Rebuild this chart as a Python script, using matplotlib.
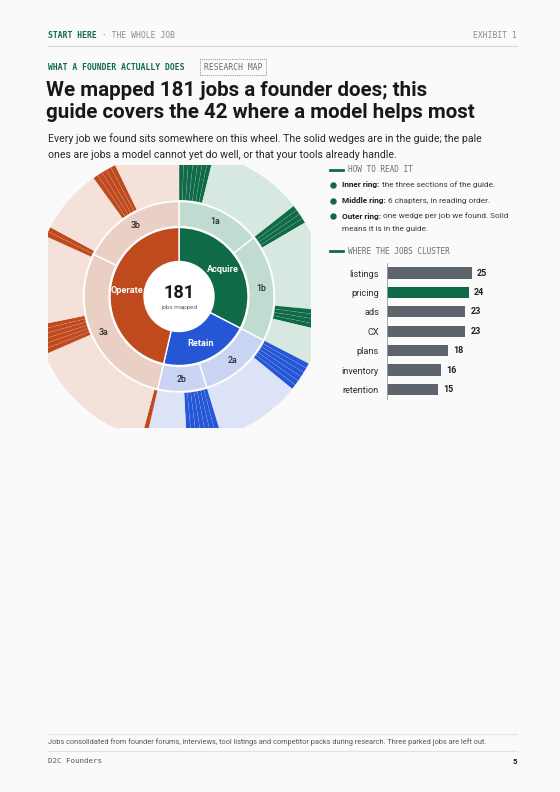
import numpy as np
import matplotlib.pyplot as plt
from matplotlib.patches import Wedge, Circle
from matplotlib.lines import Line2D

W, H = 560, 792

# ---- data ----
sections = ['Acquire', 'Retain', 'Operate']
section_jobs = [59, 38, 84]
chapters = ['1a', '1b', '2a', '2b', '3a', '3b']
chapter_jobs = [26, 33, 23, 15, 52, 32]
chapter_section = [0, 0, 1, 1, 2, 2]
total_jobs = 181
# job positions (clockwise from 12 o'clock) that are covered in the guide
guide_jobs = [0, 1, 2, 3, 4, 5, 6, 26, 27, 28, 29, 48, 49, 50, 51,
              59, 60, 61, 62, 63, 64, 82, 83, 84, 85, 86, 87, 88, 97,
              124, 125, 126, 127, 128, 129, 148, 149, 163, 164, 165, 166, 167]
clusters = ['listings', 'pricing', 'ads', 'CX', 'plans', 'inventory', 'retention']
cluster_jobs = [25, 24, 23, 23, 18, 16, 15]
highlight = 'pricing'

# ---- styles ----
BG = '#fafafa'
INK = '#16181b'
SANS = 'Roboto'
MONO = 'DejaVu Sans Mono'
dark = ['#0f6a48', '#2456d6', '#bf4a1e']
mid = ['#c0dbcf', '#c8d4f2', '#eacfc4']
pale = ['#d6e8e0', '#dce3f6', '#f4e1d9']
GREEN = dark[0]
BAR = '#5e646b'

fig = plt.figure(figsize=(W / 100, H / 100), dpi=100, facecolor=BG)
renderer = fig.canvas.get_renderer()


def fx(x):
    return x / W


def fy(y):
    return 1 - y / H


def ftext(x, y, s, **kw):
    return fig.text(fx(x), fy(y), s, **kw)


def rich(x, y, parts, size):
    # parts: (text, weight, color) placed one after another
    for s, wt, col in parts:
        t = ftext(x, y, s, fontsize=size, fontweight=wt, color=col,
                  family=SANS, va='center', ha='left')
        x += t.get_window_extent(renderer).width


def hline(x1, x2, y, color, lw):
    fig.add_artist(Line2D([fx(x1), fx(x2)], [fy(y), fy(y)], color=color, lw=lw,
                          transform=fig.transFigure))


# ---- header ----
t = ftext(48, 36, 'START HERE', family=MONO, fontsize=5.8, color=GREEN,
          fontweight='bold', va='center')
x = 48 + t.get_window_extent(renderer).width
ftext(x, 36, ' · THE WHOLE JOB', family=MONO, fontsize=5.8, color='#8a8d91', va='center')
ftext(517, 36, 'EXHIBIT 1', family=MONO, fontsize=5.8, color='#8a8d91', va='center', ha='right')
hline(48, 517, 46, '#d4d6d8', 0.8)

ftext(48, 67, 'WHAT A FOUNDER ACTUALLY DOES', family=MONO, fontsize=5.8, color=GREEN,
      fontweight='bold', va='center')
ftext(204, 67, 'RESEARCH MAP', family=MONO, fontsize=5.8, color='#6a6d71', va='center',
      bbox=dict(boxstyle='square,pad=0.45', fc='none', ec='#8a8d91', lw=0.7, ls=(0, (1, 1.2))))

ftext(46, 91, 'We mapped 181 jobs a founder does; this', family=SANS, fontsize=14.8,
      fontweight='bold', color=INK, va='center')
ftext(46, 113, 'guide covers the 42 where a model helps most', family=SANS, fontsize=14.8,
      fontweight='bold', color=INK, va='center')
ftext(48, 139, 'Every job we found sits somewhere on this wheel. The solid wedges are in the guide; the pale',
      family=SANS, fontsize=7.55, color='#26282b', va='center')
ftext(48, 155, 'ones are jobs a model cannot yet do well, or that your tools already handle.',
      family=SANS, fontsize=7.55, color='#26282b', va='center')

# ---- sunburst ----
cx, cy, half = 179, 296.5, 131.5
ax = fig.add_axes([fx(cx - half), fy(cy + half), 2 * half / W, 2 * half / H])
ax.set_xlim(-half, half)
ax.set_ylim(-half, half)
ax.axis('off')

step = 360 / total_jobs


def seg(start, n):
    a1, a2 = start * step, (start + n) * step
    return 90 - a2, 90 - a1, np.radians((a1 + a2) / 2)


r0, r1, r2, r3, r4, r5 = 35, 69, 70, 95, 96.5, 146

start = 0
for i, (name, n) in enumerate(zip(sections, section_jobs)):
    t1, t2, m = seg(start, n)
    ax.add_patch(Wedge((0, 0), r1, t1, t2, width=r1 - r0, fc=dark[i], ec='white', lw=1))
    ax.text(52 * np.sin(m), 52 * np.cos(m), name, color='white', fontsize=6.6,
            fontweight='bold', family=SANS, ha='center', va='center')
    start += n

start = 0
job_section = []
for name, n, s in zip(chapters, chapter_jobs, chapter_section):
    t1, t2, m = seg(start, n)
    ax.add_patch(Wedge((0, 0), r3, t1, t2, width=r3 - r2, fc=mid[s], ec='white', lw=1))
    ax.text(83 * np.sin(m), 83 * np.cos(m), name, color='#2a2c2f', fontsize=6.3,
            family=SANS, fontweight='medium', ha='center', va='center')
    job_section += [s] * n
    start += n

for j in range(total_jobs):
    t1, t2, m = seg(j, 1)
    s = job_section[j]
    if j in guide_jobs:
        ax.add_patch(Wedge((0, 0), r5, t1, t2, width=r5 - r4, fc=dark[s],
                           ec=(1, 1, 1, 0.15), lw=0.35))
    else:
        ax.add_patch(Wedge((0, 0), r5, t1, t2, width=r5 - r4, fc=pale[s],
                           ec=pale[s], lw=0.3))

ax.add_patch(Circle((0, 0), r0 - 0.5, fc='white', ec='none'))
ax.text(0, 3, '181', fontsize=13, fontweight='bold', family=SANS, color=INK,
        ha='center', va='center')
ax.text(0, -10.5, 'jobs mapped', fontsize=4.5, family=SANS, color='#5a5d61',
        ha='center', va='center')

# ---- how to read it ----
hline(330, 343, 170, GREEN, 2)
ftext(348, 170, 'HOW TO READ IT', family=MONO, fontsize=5.6, color='#6b6e72', va='center')
legend_rows = [
    (185, 'Inner ring:', ' the three sections of the guide.'),
    (201, 'Middle ring:', ' 6 chapters, in reading order.'),
    (216, 'Outer ring:', ' one wedge per job we found. Solid'),
]
for y, b, r in legend_rows:
    fig.add_artist(Line2D([fx(333)], [fy(y)], marker='o', ms=3.6, color=GREEN,
                          transform=fig.transFigure))
    rich(342, y, [(b, 'bold', '#1d1f22'), (r, 'normal', '#3a3d40')], 5.95)
ftext(342, 229, 'means it is in the guide.', family=SANS, fontsize=5.95, color='#3a3d40', va='center')

hline(330, 343, 251, GREEN, 2)
ftext(348, 251, 'WHERE THE JOBS CLUSTER', family=MONO, fontsize=5.6, color='#6b6e72', va='center')

# ---- cluster bars ----
gap = 19.4
bx = fig.add_axes([fx(387), fy(273 + gap * 6.5), 38 * 3.4 / W, gap * 7 / H])
bx.set_facecolor('none')
ypos = np.arange(len(clusters))
cols = [GREEN if c == highlight else BAR for c in clusters]
bx.barh(ypos, cluster_jobs, height=0.57, color=cols)
for yy, v in zip(ypos, cluster_jobs):
    bx.text(v + 1.5, yy, str(v), va='center', ha='left', fontsize=6.5,
            fontweight='bold', family=SANS, color='#1d1f22')
bx.set_xlim(0, 38)
bx.set_ylim(6.5, -0.5)
bx.set_yticks(ypos)
bx.set_yticklabels(clusters, fontsize=6.6, family=SANS, color='#2a2c2f')
bx.tick_params(axis='y', length=0, pad=5.8)
bx.set_xticks([])
for side in ['top', 'right', 'bottom']:
    bx.spines[side].set_visible(False)
bx.spines['left'].set_color('#9a9da1')
bx.spines['left'].set_linewidth(0.6)

# ---- footer ----
hline(48, 517, 733.6, '#e2e4e6', 0.8)
ftext(48, 742.5, 'Jobs consolidated from founder forums, interviews, tool listings and competitor '
      'packs during research. Three parked jobs are left out.',
      family=SANS, fontsize=5.3, color='#55585c', va='center')
hline(48, 517, 750.7, '#e2e4e6', 0.8)
ftext(48, 761, 'D2C Founders', family=MONO, fontsize=5.4, color='#55585c', va='center')
ftext(517, 761, '5', family=SANS, fontsize=5.6, fontweight='bold', color=INK,
      va='center', ha='right')

fig.savefig('out.png', dpi=100, facecolor=BG)
